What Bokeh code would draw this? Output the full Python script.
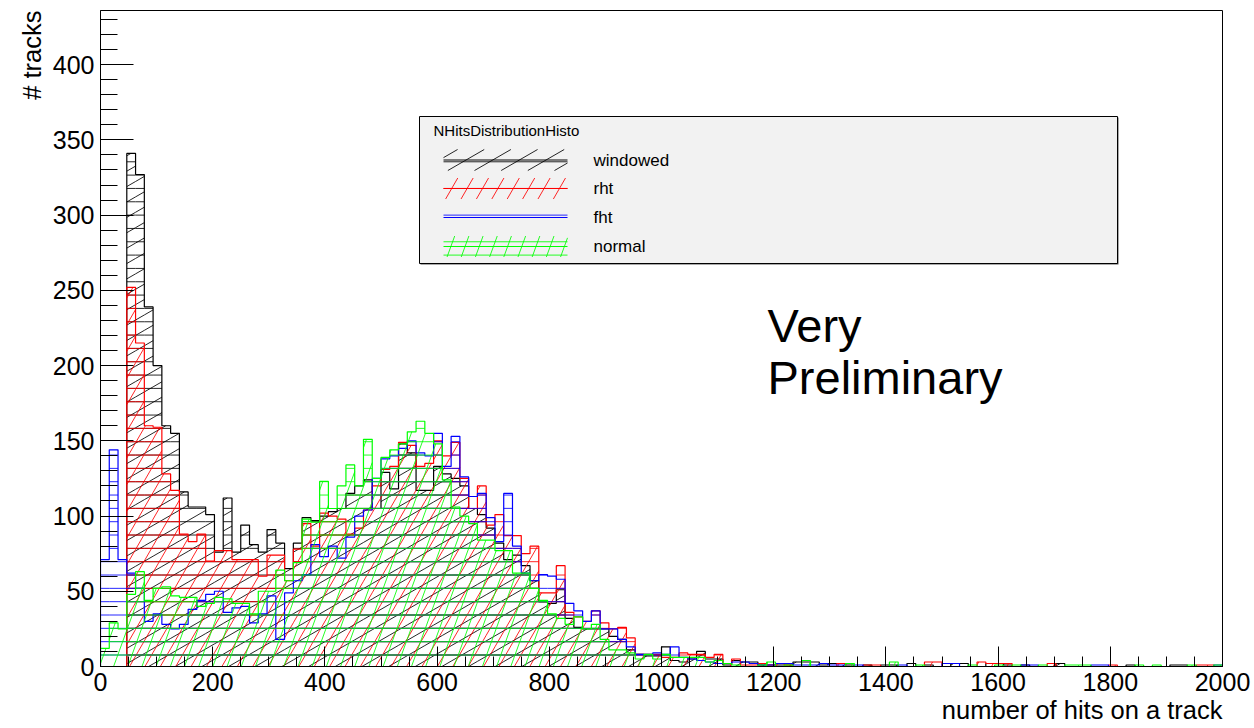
import numpy as np
from bokeh.plotting import figure
from bokeh.models import FixedTicker, Label, Range1d, Title
from bokeh.embed import file_html
from bokeh.resources import INLINE

# ---------------- data ----------------
X_MIN, X_MAX = 0, 2000
N_BINS = 128
Y_MAX = 436

windowed = [0, 0, 0, 341, 327, 239, 200, 160, 155, 116,
            106, 106, 101, 76, 112, 76, 94, 81, 76, 91,
            82, 65, 82, 99, 97, 100, 103, 105, 115, 120,
            124, 105, 129, 118, 148, 142, 117, 117, 133, 128,
            125, 120, 105, 101, 92, 82, 71, 74, 67, 57,
            43, 42, 51, 32, 26, 25, 25, 25, 20, 18,
            11, 8, 7, 7, 13, 4, 3, 5, 10, 5,
            5, 1, 4, 3, 3, 1, 1, 1, 1, 3,
            3, 3, 1, 2, 2, 1, 0, 1, 0, 1,
            1, 0, 2, 0, 1, 0, 0, 2, 2, 0,
            0, 2, 2, 1, 0, 1, 0, 0, 0, 2,
            0, 0, 0, 0, 0, 0, 0, 1, 0, 0,
            0, 0, 1, 1, 0, 0, 0, 0]

rht = [0, 0, 0, 252, 215, 160, 159, 128, 117, 88,
       83, 88, 70, 77, 77, 71, 71, 71, 60, 74,
       74, 57, 78, 95, 80, 102, 100, 98, 88, 92,
       104, 120, 131, 133, 149, 147, 133, 135, 150, 140,
       149, 125, 105, 120, 94, 101, 87, 87, 75, 80,
       49, 49, 67, 36, 33, 30, 37, 29, 25, 26,
       19, 8, 8, 8, 6, 6, 9, 8, 8, 6,
       8, 2, 5, 1, 1, 2, 1, 2, 1, 0,
       0, 0, 0, 0, 2, 0, 0, 1, 1, 0,
       0, 0, 0, 0, 3, 3, 0, 0, 0, 0,
       3, 2, 2, 2, 0, 0, 0, 0, 2, 0,
       0, 0, 0, 0, 0, 1, 0, 0, 0, 0,
       0, 0, 0, 0, 0, 1, 1, 0]

fht = [71, 144, 71, 62, 52, 30, 35, 28, 25, 28,
       38, 44, 48, 50, 36, 39, 40, 29, 35, 47,
       18, 49, 57, 61, 81, 73, 80, 72, 86, 100,
       104, 125, 138, 140, 145, 150, 142, 140, 155, 133,
       153, 126, 113, 115, 99, 83, 115, 80, 62, 57,
       61, 60, 58, 42, 37, 30, 37, 25, 25, 18,
       13, 8, 8, 9, 8, 13, 6, 5, 4, 3,
       2, 2, 3, 3, 2, 1, 1, 2, 2, 1,
       1, 1, 2, 1, 1, 0, 1, 0, 0, 0,
       0, 1, 0, 0, 0, 0, 2, 2, 0, 0,
       0, 0, 0, 0, 0, 1, 1, 0, 0, 0,
       0, 0, 0, 1, 1, 0, 0, 0, 0, 0,
       0, 0, 0, 0, 0, 0, 0, 1]

normal = [12, 29, 25, 48, 63, 44, 52, 53, 47, 46,
          46, 40, 42, 46, 45, 42, 42, 35, 50, 50,
          64, 57, 69, 98, 96, 123, 105, 120, 134, 120,
          151, 125, 139, 144, 148, 156, 163, 155, 148, 124,
          106, 100, 95, 84, 84, 77, 77, 62, 62, 52,
          44, 35, 32, 28, 33, 25, 28, 18, 11, 11,
          9, 5, 8, 5, 8, 6, 6, 6, 6, 3,
          4, 2, 1, 0, 0, 1, 3, 0, 1, 0,
          4, 0, 0, 0, 0, 2, 0, 0, 0, 0,
          3, 0, 0, 1, 0, 0, 0, 0, 0, 1,
          0, 0, 1, 0, 1, 0, 0, 1, 0, 0,
          1, 1, 1, 0, 0, 0, 0, 0, 1, 0,
          1, 0, 0, 0, 1, 0, 0, 1]

series_names = ["windowed", "rht", "fht", "normal"]
series_values = [windowed, rht, fht, normal]
series_colors = ["#000000", "#ff0000", "#0000ff", "#00ff00"]
hatch_angles = [30, 60, None, 70]  # diagonal hatch angle (plus horizontal lines)

x_major_ticks = list(range(0, 2001, 200))
x_minor_ticks = list(range(0, 2001, 50))
y_major_ticks = list(range(0, 401, 50))
y_minor_ticks = list(range(0, 431, 10))

# ---------------- layout ----------------
FW, FH = 1122, 656           # frame size in px
LEFT, TOP = 100, 10          # frame offset in the canvas
FONT = "Liberation Sans"

def px2x(px):
    return (px - LEFT) * (X_MAX - X_MIN) / FW + X_MIN

def py2y(py):
    return (TOP + FH - py) * Y_MAX / FH

def hatch(x0, x1, y0, y1, angle, spacing=13.33, phase=0.0):
    """Hatch segments (frame px, Y up) for rectangles, returned in data coordinates."""
    sx0, sy0, sx1, sy1 = [], [], [], []
    for a, b, c, d in zip(x0, x1, y0, y1):
        if d <= c or b <= a:
            continue
        if angle == 0:
            k0 = np.ceil((c - phase) / spacing)
            k1 = np.floor((d - phase) / spacing)
            for k in np.arange(k0, k1 + 1):
                yy = phase + k * spacing
                if c < yy < d:
                    sx0.append(a); sx1.append(b); sy0.append(yy); sy1.append(yy)
        else:
            th = np.radians(angle)
            t = np.tan(th)
            db = spacing / np.cos(th)
            bmin = c - t * b
            bmax = d - t * a
            k0 = np.ceil((bmin - phase) / db)
            k1 = np.floor((bmax - phase) / db)
            for k in np.arange(k0, k1 + 1):
                off = phase + k * db
                xa = max(a, (c - off) / t)
                xb = min(b, (d - off) / t)
                if xb > xa:
                    sx0.append(xa); sx1.append(xb)
                    sy0.append(t * xa + off); sy1.append(t * xb + off)
    to_x = lambda v: np.asarray(v) * (X_MAX - X_MIN) / FW + X_MIN
    to_y = lambda v: np.asarray(v) * Y_MAX / FH
    return to_x(sx0), to_y(sy0), to_x(sx1), to_y(sy1)

p = figure(frame_width=FW, frame_height=FH,
           min_border_left=LEFT, min_border_right=1254 - LEFT - FW,
           min_border_top=TOP, min_border_bottom=728 - TOP - FH,
           x_range=Range1d(X_MIN, X_MAX), y_range=Range1d(0, Y_MAX),
           output_backend="svg", toolbar_location=None,
           background_fill_color="white", border_fill_color="white")
p.outline_line_color = "black"
p.outline_line_width = 1
p.xgrid.visible = False
p.ygrid.visible = False

edges = np.linspace(X_MIN, X_MAX, N_BINS + 1)
edges_px = (edges - X_MIN) * FW / (X_MAX - X_MIN)

for name, vals, col, ang in zip(series_names, series_values, series_colors, hatch_angles):
    v = np.asarray(vals, dtype=float)
    h_px = v * FH / Y_MAX
    zeros = np.zeros_like(h_px)
    # horizontal hatch
    hx0, hy0, hx1, hy1 = hatch(edges_px[:-1], edges_px[1:], zeros, h_px, 0, phase=11.5)
    p.segment(hx0, hy0, hx1, hy1, line_color=col, line_width=1, line_alpha=0.85)
    if ang is not None:
        dx0, dy0, dx1, dy1 = hatch(edges_px[:-1], edges_px[1:], zeros, h_px, ang, phase=3.0)
        p.segment(dx0, dy0, dx1, dy1, line_color=col, line_width=1, line_alpha=0.85)
    # outline
    xs = np.repeat(edges, 2)
    ys = np.concatenate([[0.0], np.repeat(v, 2), [0.0]])
    p.line(xs, ys, line_color=col, line_width=1.2)

# axes
for ax in (p.xaxis, p.yaxis):
    ax.axis_line_color = "black"
    ax.major_tick_line_color = "black"
    ax.minor_tick_line_color = "black"
    ax.major_tick_out = 0
    ax.minor_tick_out = 0
    ax.major_label_text_font = FONT
    ax.major_label_text_font_size = "25px"
    ax.major_label_text_color = "black"
    ax.major_label_standoff = 6
p.xaxis.ticker = FixedTicker(ticks=x_major_ticks, minor_ticks=x_minor_ticks)
p.yaxis.ticker = FixedTicker(ticks=y_major_ticks, minor_ticks=y_minor_ticks)
p.xaxis.major_tick_in = 20
p.xaxis.minor_tick_in = 10
p.yaxis.major_tick_in = 33
p.yaxis.minor_tick_in = 17

# axis titles (ROOT style, aligned to the axis end)
p.add_layout(Title(text="number of hits on a track", align="right", text_font=FONT,
                   text_font_size="25.5px", text_font_style="normal", text_color="black",
                   standoff=0, offset=0), "below")
p.add_layout(Title(text="# tracks", align="right", text_font=FONT,
                   text_font_size="25.5px", text_font_style="normal", text_color="black",
                   standoff=8, offset=0), "left")

# legend
p.quad(left=[px2x(420)], right=[px2x(1118)], top=[py2y(117)], bottom=[py2y(264)],
       fill_color="#555555", line_color=None)
p.quad(left=[px2x(419)], right=[px2x(1117)], top=[py2y(116)], bottom=[py2y(263)],
       fill_color="#f2f2f2", line_color="black", line_width=1)
p.add_layout(Label(x=px2x(433), y=py2y(130), text="NHitsDistributionHisto",
                   text_font=FONT, text_font_size="15px", text_baseline="middle",
                   text_color="black"))
entry_centers = [159.5, 188, 217, 246]
for name, col, ang, cy in zip(series_names, series_colors, hatch_angles, entry_centers):
    bx0, bx1 = 443 - LEFT, 567 - LEFT
    by0, by1 = TOP + FH - (cy + 10.5), TOP + FH - (cy - 10.5)
    hx0, hy0, hx1, hy1 = hatch([bx0], [bx1], [by0], [by1], 0, phase=11.5)
    p.segment(hx0, hy0, hx1, hy1, line_color=col, line_width=1, line_alpha=0.85)
    if ang is not None:
        dx0, dy0, dx1, dy1 = hatch([bx0], [bx1], [by0], [by1], ang, phase=3.0)
        p.segment(dx0, dy0, dx1, dy1, line_color=col, line_width=1, line_alpha=0.85)
    p.segment([px2x(443)], [py2y(cy)], [px2x(567)], [py2y(cy)], line_color=col, line_width=1.2)
    p.add_layout(Label(x=px2x(593), y=py2y(cy), text=name, text_font=FONT,
                       text_font_size="17px", text_baseline="middle", text_color="black"))

# watermark text
p.add_layout(Label(x=px2x(767), y=py2y(325), text="Very", text_font=FONT,
                   text_font_size="47px", text_baseline="middle", text_color="black"))
p.add_layout(Label(x=px2x(767), y=py2y(377), text="Preliminary", text_font=FONT,
                   text_font_size="47px", text_baseline="middle", text_color="black"))

open("out.html", "w").write(file_html(p, INLINE))
